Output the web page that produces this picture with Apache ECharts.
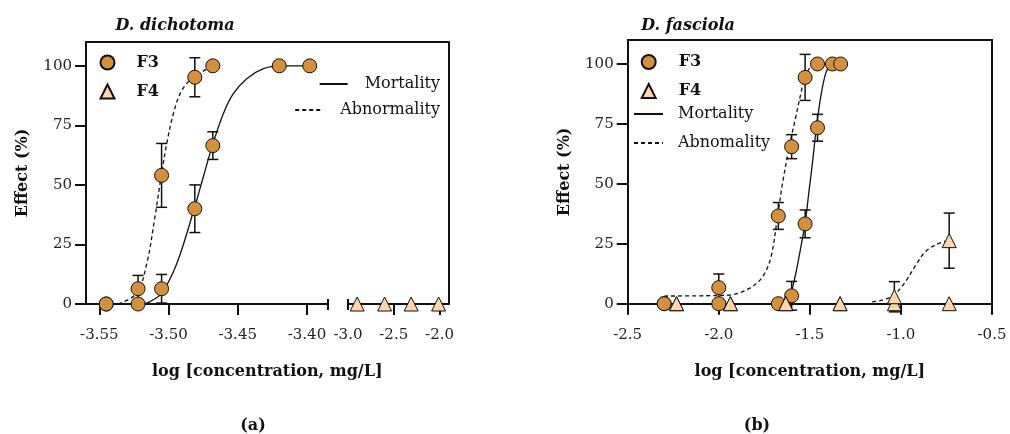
<!DOCTYPE html>
<html>
<head>
<meta charset="utf-8">
<script src="https://cdn.jsdelivr.net/npm/echarts@6/dist/echarts.min.js"></script>
<style>
  html, body { margin: 0; padding: 0; background: #fff; }
  #main { width: 1010px; height: 434px; }
</style>
</head>
<body>
<div id="main"></div>
<script>
// (a) D. dichotoma -- F3 points
var dConc3 = [-3.545, -3.522, -3.505, -3.481, -3.468, -3.42, -3.398]
var dMort3 = [0, 0, 6.4, 40, 66.5, 100, 100]
var dMortErr3 = [0, 0, 6, 10, 5.8, 0, 0]
var dAbn3 = [0, 6.4, 54, 95.2, 100, null, null]
var dAbnErr3 = [0, 5.6, 13.4, 8.2, 0, 0, 0]
// (a) F4 points (right side of the broken axis)
var dConc4 = [-2.9, -2.6, -2.31, -2.01]
var dEff4 = [0, 0, 0, 0]
// (a) fitted curves
var dMortCurve = [[-3.518, 0], [-3.5134, 1], [-3.505, 4.5], [-3.494, 17], [-3.4814, 40.1], [-3.4749, 53.3],
  [-3.4683, 66.6], [-3.4604, 79.9], [-3.4532, 88.3], [-3.4435, 94.6], [-3.4315, 98.8], [-3.4194, 100], [-3.398, 100]]
var dAbnCurve = [[-3.5363, 0], [-3.523, 4.5], [-3.5157, 17], [-3.5098, 36.6], [-3.5054, 53.3], [-3.5013, 67.3],
  [-3.4965, 79.9], [-3.4905, 89.6], [-3.4821, 95.2], [-3.4724, 98.6], [-3.468, 100]]

// (b) D. fasciola -- F3 points
var fConc3 = [-2.30, -2.00, -1.673, -1.60, -1.526, -1.458, -1.376, -1.331]
var fMort3 = [0, 0, 0, 3.3, 33.3, 73.4, 100, 100]
var fMortErr3 = [0, 0, 0, 6, 5.8, 5.6, 0, 0]
var fAbn3 = [0, 6.7, 36.6, 65.5, 94.4, 100, null, null]
var fAbnErr3 = [0, 5.7, 5.6, 5, 9.6, 0, 0, 0]
// (b) F4 points
var fConc4 = [-2.232, -1.936, -1.632, -1.334, -1.036, -0.735]
var fMort4 = [0, 0, 0, 0, 0, 0]
var fAbn4 = [0, 0, 0, 0, 2.9, 26.3]
var fAbnErr4 = [0, 0, 0, 0, 6.3, 11.5]
// (b) fitted curves
var fMortCurve = [[-1.613, 0.2], [-1.604, 3.6], [-1.577, 12.7], [-1.549, 23.8], [-1.526, 33.5], [-1.504, 47.4],
  [-1.486, 58.6], [-1.464, 73.6], [-1.44, 86.4], [-1.413, 96.1], [-1.385, 100]]
var fAbnCurve = [[-2.30, 3.2], [-2.10, 3.3], [-1.941, 3.6], [-1.832, 6.4], [-1.759, 11.3], [-1.713, 19.6],
  [-1.677, 36.7], [-1.65, 50.2], [-1.613, 65.5], [-1.577, 78], [-1.549, 87.8], [-1.526, 94.7], [-1.486, 99.6], [-1.46, 100]]
var fAbn4Curve = [[-1.158, 0.8], [-1.103, 1.5], [-1.039, 3.6], [-0.975, 9.2], [-0.912, 16.9], [-0.866, 21.7],
  [-0.811, 24.5], [-0.745, 26.3]]

// axis ticks
var yTicks = [0, 25, 50, 75, 100]
var dTicksA = [-3.55, -3.50, -3.45, -3.40]
var dTicksB = [-3.0, -2.5, -2.0]

var FONT = 'DejaVu Serif'
var F3_COLOR = '#d4913d'
var F4_COLOR = '#fdd6ad'

function pairs(xs, ys) {
  var out = []
  for (var i = 0; i < xs.length; i++) {
    if (ys[i] != null) out.push([xs[i], ys[i]])
  }
  return out
}
function errRows(xs, ys, es) {
  var out = []
  for (var i = 0; i < xs.length; i++) {
    if (ys[i] != null && es[i] > 0) out.push([xs[i], ys[i], es[i]])
  }
  return out
}

function errorBar(params, api) {
  var x = api.value(0), y = api.value(1), e = api.value(2)
  var top = api.coord([x, y + e])
  var bot = api.coord([x, y - e])
  var w = 5.5
  var st = { stroke: '#111', lineWidth: 1.5 }
  return {
    type: 'group',
    children: [
      { type: 'line', shape: { x1: top[0], y1: top[1], x2: bot[0], y2: bot[1] }, style: st },
      { type: 'line', shape: { x1: top[0] - w, y1: top[1], x2: top[0] + w, y2: top[1] }, style: st },
      { type: 'line', shape: { x1: bot[0] - w, y1: bot[1], x2: bot[0] + w, y2: bot[1] }, style: st }
    ]
  }
}

var lineAx = { onZero: false, lineStyle: { color: '#111', width: 2 } }
var tickSt = { color: '#111', width: 2 }
var labelSt = { fontFamily: FONT, fontSize: 15, color: '#222' }
var nameSt = { fontFamily: FONT, fontSize: 16, fontWeight: 'bold', color: '#111' }
// hide the dot that ECharts puts in the middle of a line legend icon
var noDot = { color: 'rgba(0,0,0,0)', borderWidth: 0, opacity: 0 }

function yMain(gi) {
  return {
    gridIndex: gi, type: 'value', min: 0, max: 110,
    axisLine: { show: true, onZero: false, lineStyle: lineAx.lineStyle },
    axisTick: { show: true, length: 11, lineStyle: tickSt, customValues: yTicks },
    axisLabel: Object.assign({ margin: 14, customValues: yTicks }, labelSt),
    splitLine: { show: false },
    name: 'Effect (%)', nameLocation: 'middle', nameGap: 55, nameTextStyle: nameSt
  }
}
function yHidden(gi, pos) {
  return {
    gridIndex: gi, type: 'value', min: 0, max: 110, position: pos || 'left',
    axisLine: { show: pos === 'right', onZero: false, lineStyle: lineAx.lineStyle },
    axisTick: { show: false }, axisLabel: { show: false }, splitLine: { show: false }
  }
}
function breakTick(gi, v, lo, hi) {
  return {
    gridIndex: gi, type: 'value', min: lo, max: hi, position: 'bottom', offset: -5,
    axisLine: { show: false, onZero: false },
    axisTick: { show: true, length: 11, lineStyle: tickSt, customValues: [v] },
    axisLabel: { show: false }, splitLine: { show: false }
  }
}

var dom = document.getElementById('main')
var myChart = echarts.init(dom, null, { renderer: 'canvas' })

var option = {
  backgroundColor: '#fff',
  animation: false,
  textStyle: { fontFamily: FONT, color: '#111' },
  title: [
    { text: 'D. dichotoma', left: 170, top: 13, textAlign: 'center',
      textStyle: { fontFamily: FONT, fontSize: 16, fontWeight: 'bold', fontStyle: 'italic', color: '#111' } },
    { text: 'D. fasciola', left: 683, top: 13, textAlign: 'center',
      textStyle: { fontFamily: FONT, fontSize: 16, fontWeight: 'bold', fontStyle: 'italic', color: '#111' } },
    { text: '({b|a})', left: 248, top: 413, textAlign: 'center',
      textStyle: { fontFamily: FONT, fontSize: 16, color: '#111', rich: { b: { fontFamily: FONT, fontSize: 16, fontWeight: 'bold', color: '#111' } } } },
    { text: '({b|b})', left: 752, top: 413, textAlign: 'center',
      textStyle: { fontFamily: FONT, fontSize: 16, color: '#111', rich: { b: { fontFamily: FONT, fontSize: 16, fontWeight: 'bold', color: '#111' } } } }
  ],
  legend: [
    // left panel: markers
    { left: 99.5, top: 54.5, orient: 'vertical', padding: 0, itemWidth: 14, itemHeight: 14, itemGap: 13,
      selectedMode: false,
      textStyle: { fontFamily: FONT, fontSize: 16, fontWeight: 'bold', color: '#111', padding: [0, 0, 0, 17] },
      data: ['F3', 'F4'] },
    // left panel: curves, right-aligned text
    { right: 570, top: 76, orient: 'vertical', padding: 0, itemWidth: 28, itemHeight: 14,
      selectedMode: false,
      textStyle: { fontFamily: FONT, fontSize: 16, color: '#111', padding: [0, 0, 0, 12] },
      data: [{ name: 'Mortality', itemStyle: noDot }] },
    { right: 570, top: 102, orient: 'vertical', padding: 0, itemWidth: 28, itemHeight: 14,
      selectedMode: false,
      textStyle: { fontFamily: FONT, fontSize: 16, color: '#111', padding: [0, 0, 0, 12] },
      data: [{ name: 'Abnormality', itemStyle: noDot }] },
    // right panel: markers
    { left: 640.7, top: 54, orient: 'vertical', padding: 0, itemWidth: 14, itemHeight: 14, itemGap: 13,
      selectedMode: false,
      textStyle: { fontFamily: FONT, fontSize: 16, fontWeight: 'bold', color: '#111', padding: [0, 0, 0, 18] },
      data: ['F3', 'F4'] },
    // right panel: curves
    { left: 633, top: 106, orient: 'vertical', padding: 0, itemWidth: 29, itemHeight: 14, itemGap: 13,
      selectedMode: false,
      textStyle: { fontFamily: FONT, fontSize: 16, color: '#111', padding: [0, 0, 0, 10] },
      data: [{ name: 'Mortality', itemStyle: noDot }, { name: 'Abnomality', itemStyle: noDot }] }
  ],
  grid: [
    { left: 86, top: 42, width: 241.3, height: 262 },
    { left: 348, top: 42, width: 100.5, height: 262 },
    { left: 86, top: 42, width: 362.5, height: 262 },
    { left: 627.7, top: 40, width: 364.3, height: 263.7 }
  ],
  xAxis: [
    // 0: left panel, first segment
    { gridIndex: 0, type: 'value', min: -3.5596, max: -3.3853,
      axisLine: lineAx,
      axisTick: { show: true, length: 11, lineStyle: tickSt, customValues: dTicksA },
      axisLabel: Object.assign({ margin: 24, customValues: dTicksA, formatter: function (v) { return v.toFixed(2) } }, labelSt),
      splitLine: { show: false } },
    // 1: break mark at end of first segment
    breakTick(0, -3.3853, -3.5596, -3.3853),
    // 2: left panel, second segment
    { gridIndex: 1, type: 'value', min: -3.0, max: -1.902,
      axisLine: lineAx,
      axisTick: { show: true, length: 11, lineStyle: tickSt, customValues: [-2.5, -2.0] },
      axisLabel: Object.assign({ margin: 24, customValues: dTicksB, formatter: function (v) { return v.toFixed(1) } }, labelSt),
      splitLine: { show: false } },
    // 3: break mark at start of second segment
    breakTick(1, -3.0, -3.0, -1.902),
    // 4: frame top line of left panel
    { gridIndex: 2, type: 'value', min: 0, max: 1, position: 'top',
      axisLine: lineAx, axisTick: { show: false }, axisLabel: { show: false }, splitLine: { show: false } },
    // 5: shared axis title of left panel
    { gridIndex: 2, type: 'value', min: 0, max: 1, position: 'bottom',
      axisLine: { show: false, onZero: false }, axisTick: { show: false }, axisLabel: { show: false }, splitLine: { show: false },
      name: 'log [concentration, mg/L]', nameLocation: 'middle', nameGap: 60, nameTextStyle: nameSt },
    // 6: right panel
    { gridIndex: 3, type: 'value', min: -2.5, max: -0.5, interval: 0.5,
      axisLine: lineAx,
      axisTick: { show: true, length: 11, lineStyle: tickSt },
      axisLabel: Object.assign({ margin: 24, formatter: function (v) { return v.toFixed(1) } }, labelSt),
      splitLine: { show: false },
      name: 'log [concentration, mg/L]', nameLocation: 'middle', nameGap: 60, nameTextStyle: nameSt },
    // 7: right panel top line
    { gridIndex: 3, type: 'value', min: -2.5, max: -0.5, position: 'top',
      axisLine: lineAx, axisTick: { show: false }, axisLabel: { show: false }, splitLine: { show: false } }
  ],
  yAxis: [
    yMain(0),              // 0
    yHidden(1),            // 1
    yHidden(2, 'right'),   // 2 frame right line (left panel)
    yMain(3),              // 3
    yHidden(3, 'right')    // 4 frame right line (right panel)
  ],
  series: [
    // ----- left panel -----
    { name: 'Mortality', type: 'line', xAxisIndex: 0, yAxisIndex: 0, data: dMortCurve,
      smooth: 0.35, symbol: 'none', clip: false, z: 2,
      lineStyle: { color: '#111', width: 1.3 }, itemStyle: { color: '#111' } },
    { name: 'Abnormality', type: 'line', xAxisIndex: 0, yAxisIndex: 0, data: dAbnCurve,
      smooth: 0.35, symbol: 'none', clip: false, z: 2,
      lineStyle: { color: '#111', width: 1.3, type: [4, 3] }, itemStyle: { color: '#111' } },
    { type: 'custom', xAxisIndex: 0, yAxisIndex: 0, renderItem: errorBar, z: 3,
      data: errRows(dConc3, dMort3, dMortErr3).concat(errRows(dConc3, dAbn3, dAbnErr3)) },
    { name: 'F3', type: 'scatter', xAxisIndex: 0, yAxisIndex: 0, clip: false, z: 5,
      symbol: 'circle', symbolSize: 14,
      itemStyle: { color: F3_COLOR, borderColor: '#111', borderWidth: 1, opacity: 1 },
      data: pairs(dConc3, dMort3).concat(pairs(dConc3, dAbn3)) },
    { name: 'F4', type: 'scatter', xAxisIndex: 2, yAxisIndex: 1, clip: false, z: 5,
      symbol: 'triangle', symbolSize: 14,
      itemStyle: { color: F4_COLOR, borderColor: '#111', borderWidth: 1, opacity: 1 },
      data: pairs(dConc4, dEff4) },

    // ----- right panel -----
    { name: 'Mortality', type: 'line', xAxisIndex: 6, yAxisIndex: 3, data: fMortCurve,
      smooth: 0.35, symbol: 'none', clip: false, z: 2,
      lineStyle: { color: '#111', width: 1.3 }, itemStyle: { color: '#111' } },
    { name: 'Abnomality', type: 'line', xAxisIndex: 6, yAxisIndex: 3, data: fAbnCurve,
      smooth: 0.35, symbol: 'none', clip: false, z: 2,
      lineStyle: { color: '#111', width: 1.3, type: [4, 3] }, itemStyle: { color: '#111' } },
    { name: 'Abnomality', type: 'line', xAxisIndex: 6, yAxisIndex: 3, data: fAbn4Curve,
      smooth: 0.35, symbol: 'none', clip: false, z: 2,
      lineStyle: { color: '#111', width: 1.3, type: [4, 3] }, itemStyle: { color: '#111' } },
    { type: 'custom', xAxisIndex: 6, yAxisIndex: 3, renderItem: errorBar, z: 3,
      data: errRows(fConc3, fMort3, fMortErr3).concat(errRows(fConc3, fAbn3, fAbnErr3), errRows(fConc4, fAbn4, fAbnErr4)) },
    { name: 'F3', type: 'scatter', xAxisIndex: 6, yAxisIndex: 3, clip: false, z: 5,
      symbol: 'circle', symbolSize: 14,
      itemStyle: { color: F3_COLOR, borderColor: '#111', borderWidth: 1, opacity: 1 },
      data: pairs(fConc3, fMort3).concat(pairs(fConc3, fAbn3)) },
    { name: 'F4', type: 'scatter', xAxisIndex: 6, yAxisIndex: 3, clip: false, z: 5,
      symbol: 'triangle', symbolSize: 14,
      itemStyle: { color: F4_COLOR, borderColor: '#111', borderWidth: 1, opacity: 1 },
      data: pairs(fConc4, fMort4).concat(pairs(fConc4, fAbn4)) }
  ]
}
myChart.setOption(option)
</script>
</body>
</html>
